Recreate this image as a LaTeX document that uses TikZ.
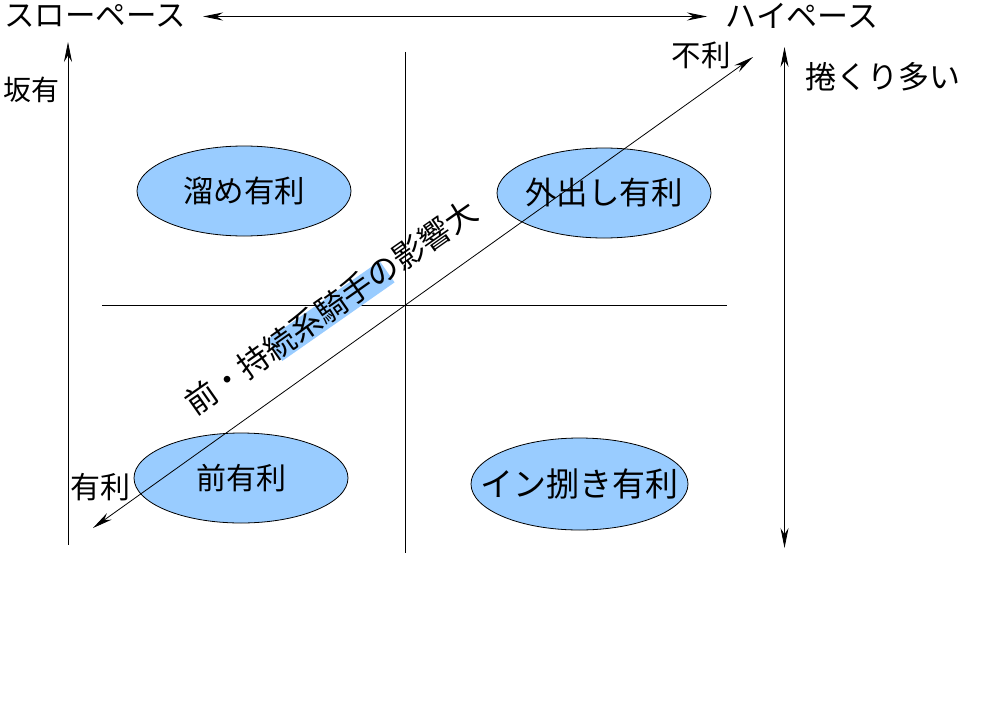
\documentclass[tikz,border=0pt]{standalone}
\usepackage{fontspec}
\newfontfamily\jp{Noto Sans CJK JP}
\usetikzlibrary{arrows.meta,shapes.geometric}
\definecolor{ovalblue}{HTML}{99CCFF}
\newcommand{\fsz}[1]{\jp\fontsize{#1}{#1}\selectfont}
\begin{document}
\begin{tikzpicture}[x=1pt,y=-1pt,
  lbl/.style={inner sep=0pt, anchor=center},
  oval/.style={ellipse, draw, line width=0.8pt, fill=ovalblue, minimum width=214pt, minimum height=90pt, inner sep=0pt},
  ln/.style={line width=0.8pt},
  tip/.tip={Stealth[length=20pt,width=8pt]},
  arr/.style={ln, tip-tip},
  arrup/.style={ln, tip-}]
\useasboundingbox[fill=white] (0,0) rectangle (984,701);
% ellipses
\node[oval, label={[lbl, font=\fsz{30.5}]center:溜め有利}] (tame) at (244,191) {};
\node[oval, label={[lbl, font=\fsz{31.5}]center:外出し有利}] (soto) at (604,193) {};
\node[oval, label={[lbl, font=\fsz{30}]center:前有利}] (mae)  at (241,478) {};
\node[oval, minimum width=217pt, minimum height=92pt, label={[lbl, font=\fsz{33}]center:イン捌き有利}] (in) at (579.5,484) {};
% crosshair
\coordinate (vt) at (405,52);
\coordinate (vb) at (405,553);
\coordinate (hl) at (102,305);
\coordinate (hr) at (727,305);
\draw[ln] (vt) -- (vb);
\draw[ln] (hl) -- (hr);
% axes
\coordinate (tl) at (203,16.5);
\coordinate (tr) at (707,16.5);
\draw[arr] (tl) -- (tr);
\coordinate (lt) at (68,42);
\coordinate (lb) at (68,545);
\draw[arrup] (lt) -- (lb);
\coordinate (rt) at (784.5,47);
\coordinate (rb) at (784.5,548);
\draw[arr] (rt) -- (rb);
\coordinate (db) at (93,528);
\coordinate (dt) at (753,57);
\draw[arr] (db) -- (dt);
% highlight box and diagonal text
\fill[ovalblue, rotate around={35:(331,311)}] (331-68.5,311-13) rectangle (331+68.5,311+13);
\node[lbl, rotate=35, font=\fsz{31.5}] (diag) at (331,307) {前・持続系騎手の影響大};
% labels
\node[lbl, font=\fsz{30.5}] (slow) at (95,16) {スローペース};
\node[lbl, font=\fsz{31}] (high) at (802,16) {ハイペース};
\node[lbl, font=\fsz{28}] (saka) at (31,90) {坂有};
\node[lbl, font=\fsz{31}] (makuri) at (883,77) {捲くり多い};
\node[lbl, font=\fsz{29.5}] (furi) at (701,55) {不利};
\node[lbl, font=\fsz{30}] (yuri) at (100,487) {有利};
\end{tikzpicture}
\end{document}
